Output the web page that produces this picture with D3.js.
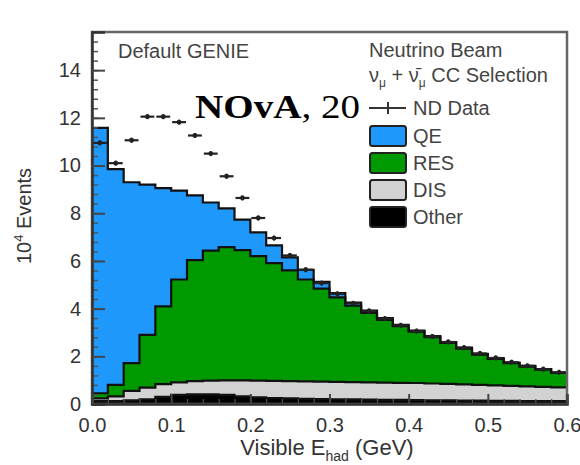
<!DOCTYPE html>
<html>
<head>
<meta charset="utf-8">
<script src="https://cdn.jsdelivr.net/npm/d3@7"></script>
<style>
  html, body { margin: 0; padding: 0; background: #fff; }
  svg { display: block; }
  text { font-family: "Liberation Sans", Arial, sans-serif; }
</style>
</head>
<body>
<svg id="chart" width="580" height="465"></svg>
<script>
// Visible hadronic energy, 30 bins of 0.02 GeV from 0 to 0.6 GeV
const binEdges = d3.range(0, 31).map(i => +(i * 0.02).toFixed(2));

// Simulated event counts per bin (units of 10^4 events), by interaction channel
const otherCounts = [0.12,0.12,0.15,0.20,0.30,0.38,0.40,0.40,0.38,0.32,0.28,0.25,0.24,0.22,0.21,0.20,0.19,0.18,0.17,0.17,0.16,0.15,0.15,0.14,0.14,0.13,0.13,0.12,0.12,0.12];
const disCounts   = [0.12,0.20,0.40,0.49,0.53,0.53,0.56,0.58,0.61,0.67,0.70,0.72,0.72,0.73,0.73,0.73,0.73,0.73,0.73,0.72,0.72,0.71,0.69,0.68,0.66,0.65,0.63,0.62,0.60,0.58];
const resCounts   = [0.21,0.48,1.16,2.21,3.26,4.31,5.07,5.45,5.59,5.46,5.22,4.94,4.64,4.27,3.90,3.54,3.20,2.91,2.63,2.37,2.15,1.94,1.72,1.50,1.27,1.11,0.95,0.83,0.72,0.60];
const qeCounts    = [11.13,9.05,7.59,6.30,4.96,3.73,2.72,2.02,1.62,1.28,1.00,0.74,0.55,0.41,0.28,0.18,0.13,0.10,0.07,0.06,0.05,0.05,0.04,0.04,0.03,0.03,0.03,0.03,0.02,0.02];

// Near Detector data per bin (units of 10^4 events)
const ndData = [10.95,10.10,11.06,12.05,12.05,11.82,11.26,10.50,9.55,8.64,7.80,6.96,6.23,5.63,5.07,4.62,4.22,3.90,3.58,3.30,3.06,2.83,2.60,2.36,2.12,1.93,1.75,1.60,1.46,1.33];

// Axis ticks
const yTicks = [0, 2, 4, 6, 8, 10, 12, 14];
const xTicks = [0.0, 0.1, 0.2, 0.3, 0.4, 0.5, 0.6];

// Legend entries
const legendItems = [
  { key: "qe",    label: "QE" },
  { key: "res",   label: "RES" },
  { key: "dis",   label: "DIS" },
  { key: "other", label: "Other" }
];
const fillColor = { other: "#000000", dis: "#d2d2d2", res: "#009a00", qe: "#1e98fa" };

const svg = d3.select("#chart");
const frameL = 92, frameR = 567, frameT = 32, frameB = 404;

const x = d3.scaleLinear().domain([0, 0.6]).range([frameL, frameR]);
const y = d3.scaleLinear().domain([0, 15.6]).range([frameB, frameT]);

// Stacked histogram
const rows = binEdges.slice(0, 30).map((e, i) => ({
  x0: e, other: otherCounts[i], dis: disCounts[i], res: resCounts[i], qe: qeCounts[i]
}));
const stack = d3.stack().keys(["other", "dis", "res", "qe"]);
const layers = stack(rows);

const area = d3.area()
  .curve(d3.curveStepAfter)
  .x(d => x(d.x))
  .y0(d => y(d.y0))
  .y1(d => y(d.y1));
const line = d3.line()
  .curve(d3.curveStepAfter)
  .x(d => x(d.x))
  .y(d => y(d.y1));

function stepPoints(layer) {
  const pts = layer.map((d, i) => ({ x: binEdges[i], y0: d[0], y1: d[1] }));
  const last = layer[layer.length - 1];
  pts.push({ x: binEdges[30], y0: last[0], y1: last[1] });
  return pts;
}

const plot = svg.append("g");
layers.slice().reverse().forEach(layer => {
  plot.append("path")
    .attr("d", area(stepPoints(layer)))
    .attr("fill", fillColor[layer.key]);
});
layers.forEach(layer => {
  plot.append("path")
    .attr("d", line(stepPoints(layer)))
    .attr("fill", "none")
    .attr("stroke", "#111")
    .attr("stroke-width", 2.2);
});

// Data points with horizontal (bin width) error bars
const dataG = svg.append("g");
ndData.forEach((v, i) => {
  const cx = x(binEdges[i] + 0.01);
  const cy = y(v);
  dataG.append("line")
    .attr("x1", x(binEdges[i]) + 1).attr("x2", x(binEdges[i + 1]) - 1)
    .attr("y1", cy).attr("y2", cy)
    .attr("stroke", "#222").attr("stroke-width", 2.2);
  dataG.append("line")
    .attr("x1", cx).attr("x2", cx)
    .attr("y1", cy - 2.5).attr("y2", cy + 2.5)
    .attr("stroke", "#222").attr("stroke-width", 2);
  dataG.append("circle")
    .attr("cx", cx).attr("cy", cy).attr("r", 2.4)
    .attr("fill", "#222");
});

// Frame
svg.append("rect")
  .attr("x", frameL).attr("y", frameT)
  .attr("width", frameR - frameL).attr("height", frameB - frameT)
  .attr("fill", "none").attr("stroke", "#666").attr("stroke-width", 2.5);

// Y axis: major and minor ticks pointing inward
const yMinor = d3.range(0, 15.61, 0.4).map(v => +v.toFixed(1));
svg.append("g")
  .attr("transform", `translate(${frameL},0)`)
  .call(d3.axisLeft(y).tickValues(yMinor).tickSize(-6).tickFormat(""))
  .call(g => g.select(".domain").remove())
  .call(g => g.selectAll("line").attr("stroke", "#555").attr("stroke-width", 1.5));
svg.append("g")
  .attr("transform", `translate(${frameL},0)`)
  .call(d3.axisLeft(y).tickValues(yTicks).tickSize(-13).tickPadding(11).tickFormat(d3.format("d")))
  .call(g => g.select(".domain").attr("stroke", "#333").attr("stroke-width", 2.5))
  .call(g => g.selectAll("line").attr("stroke", "#444").attr("stroke-width", 2))
  .call(g => g.selectAll("text")
    .attr("fill", "#333")
    .style("font-size", "20px")
    .style("font-family", "'Liberation Sans', Arial, sans-serif"));

// X axis
const xMinor = d3.range(0, 0.601, 0.02);
svg.append("g")
  .attr("transform", `translate(0,${frameB})`)
  .call(d3.axisBottom(x).tickValues(xMinor).tickSize(-5).tickFormat(""))
  .call(g => g.select(".domain").remove())
  .call(g => g.selectAll("line").attr("stroke", "#555").attr("stroke-width", 1.2));
svg.append("g")
  .attr("transform", `translate(0,${frameB})`)
  .call(d3.axisBottom(x).tickValues(xTicks).tickSize(-10).tickPadding(14).tickFormat(d3.format(".1f")))
  .call(g => g.select(".domain").attr("stroke", "#333").attr("stroke-width", 2.5))
  .call(g => g.selectAll("line").attr("stroke", "#444").attr("stroke-width", 2))
  .call(g => g.selectAll("text")
    .attr("fill", "#333")
    .style("font-size", "20px")
    .style("font-family", "'Liberation Sans', Arial, sans-serif"));

// Axis titles
const yTitle = svg.append("text")
  .attr("transform", "translate(31,216) rotate(-90)")
  .attr("text-anchor", "middle")
  .attr("fill", "#333")
  .style("font-size", "20px");
yTitle.append("tspan").text("10");
yTitle.append("tspan").attr("dy", -8).style("font-size", "13px").text("4");
yTitle.append("tspan").attr("dy", 8).text(" Events");

const xTitle = svg.append("text")
  .attr("x", 327).attr("y", 455)
  .attr("text-anchor", "middle")
  .attr("fill", "#333")
  .style("font-size", "22px");
xTitle.append("tspan").text("Visible E");
xTitle.append("tspan").attr("dy", 6).style("font-size", "14px").text("had");
xTitle.append("tspan").attr("dy", -6).text(" (GeV)");

// In-plot captions
svg.append("text")
  .attr("x", 118).attr("y", 58)
  .attr("fill", "#444")
  .style("font-size", "20px")
  .text("Default GENIE");

svg.append("text")
  .attr("x", 369).attr("y", 57)
  .attr("fill", "#444")
  .style("font-size", "20px")
  .text("Neutrino Beam");

const sel = svg.append("text")
  .attr("x", 369).attr("y", 82)
  .attr("fill", "#444")
  .style("font-size", "20px");
sel.append("tspan").text("ν");
sel.append("tspan").attr("dy", 5).style("font-size", "12px").text("μ");
sel.append("tspan").attr("dy", -5).text(" + ν\u0304");
sel.append("tspan").attr("dy", 5).style("font-size", "12px").text("μ");
sel.append("tspan").attr("dy", -5).text(" CC Selection");

// Legend
const lg = svg.append("g");
lg.append("line")
  .attr("x1", 369).attr("x2", 406).attr("y1", 108).attr("y2", 108)
  .attr("stroke", "#333").attr("stroke-width", 2);
lg.append("line")
  .attr("x1", 388).attr("x2", 388).attr("y1", 102).attr("y2", 114)
  .attr("stroke", "#333").attr("stroke-width", 2);
lg.append("text")
  .attr("x", 413).attr("y", 115)
  .attr("fill", "#444")
  .style("font-size", "20px")
  .text("ND Data");

legendItems.forEach((item, i) => {
  const cy = 136 + i * 27;
  lg.append("rect")
    .attr("x", 370).attr("y", cy - 10)
    .attr("width", 36).attr("height", 20)
    .attr("rx", 2.5)
    .attr("fill", fillColor[item.key])
    .attr("stroke", "#222").attr("stroke-width", 2);
  lg.append("text")
    .attr("x", 413).attr("y", cy + 7)
    .attr("fill", "#444")
    .style("font-size", "20px")
    .text(item.label);
});

// Experiment tag
const tag = svg.append("text")
  .attr("transform", "translate(195,118) scale(1.15,1)")
  .attr("fill", "#000")
  .style("font-family", "'Liberation Serif', 'Times New Roman', serif")
  .style("font-size", "34px");
tag.append("tspan").style("font-weight", "bold").text("NOvA");
tag.append("tspan").text(", 20");
</script>
</body>
</html>
